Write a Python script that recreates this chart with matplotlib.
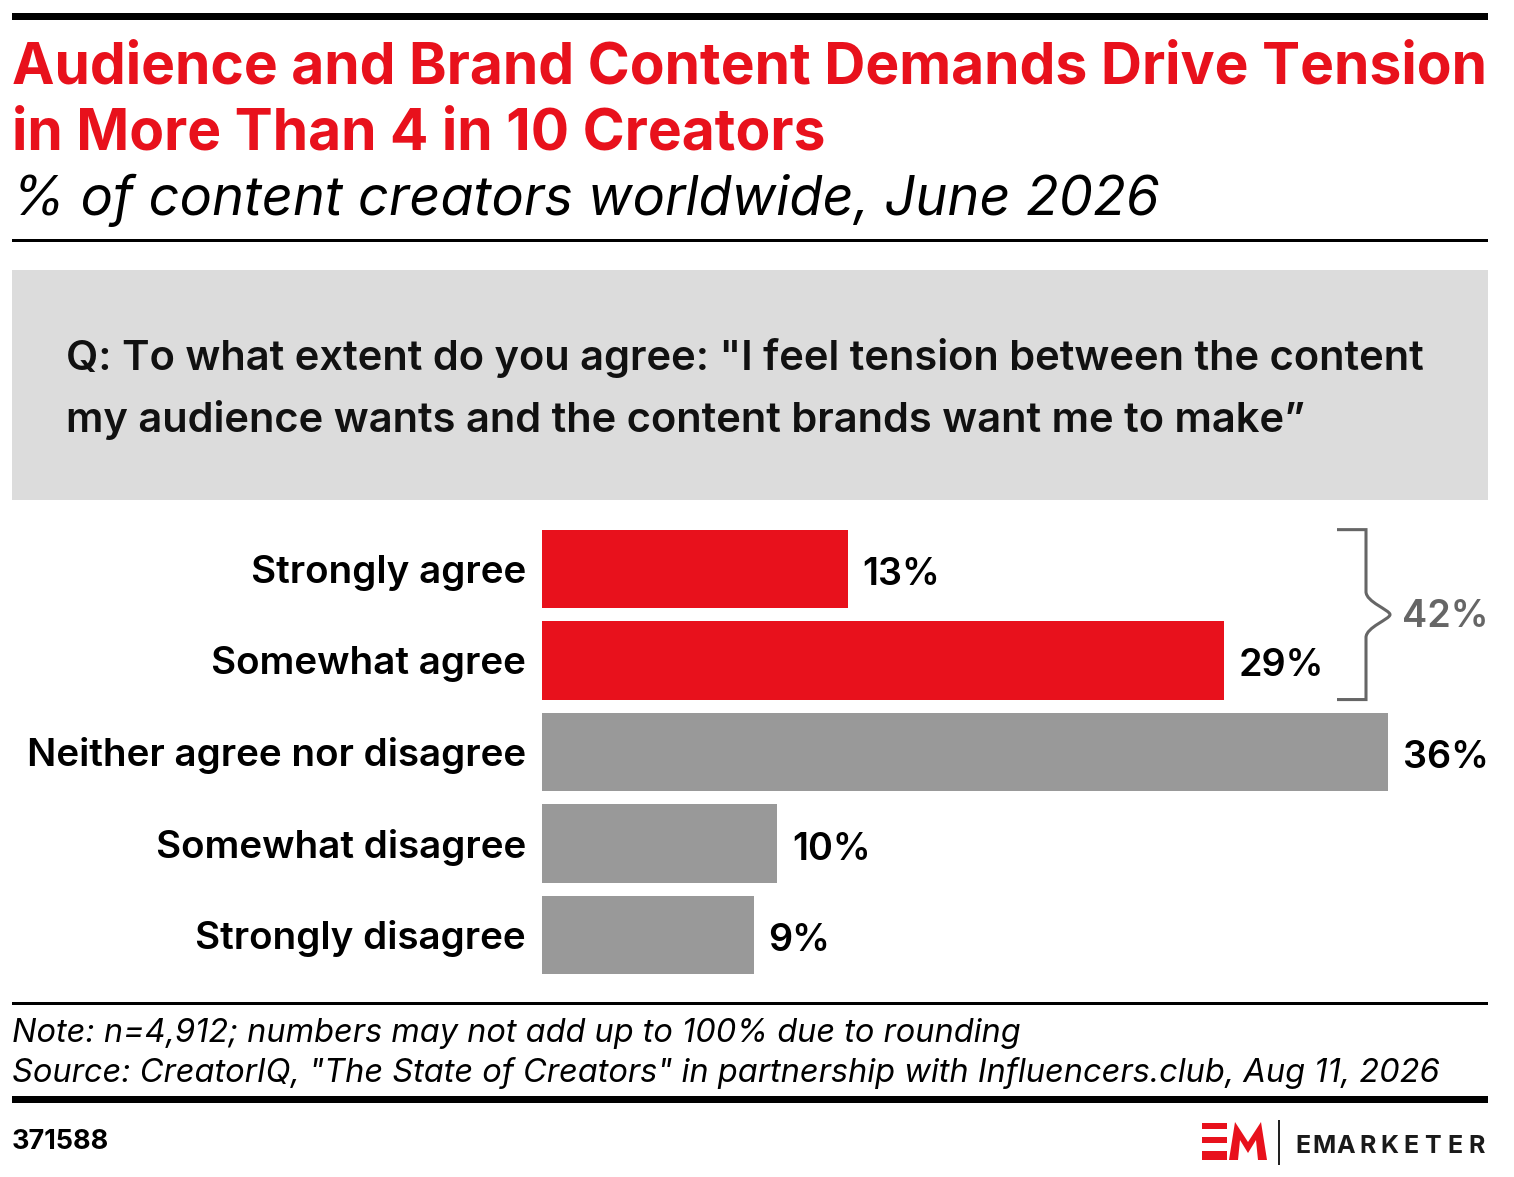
import matplotlib
matplotlib.use("Agg")
import matplotlib.pyplot as plt
from matplotlib.path import Path
from matplotlib.patches import PathPatch, Rectangle, Polygon

categories = ["Strongly agree", "Somewhat agree", "Neither agree nor disagree",
              "Somewhat disagree", "Strongly disagree"]
values = [13, 29, 36, 10, 9]
value_labels = ["13%", "29%", "36%", "10%", "9%"]
agree_total_label = "42%"

RED = "#e8111c"
GRAY = "#999999"
DARK = "#666666"
FONT = "Inter"

W, H = 1514, 1177
fig = plt.figure(figsize=(W / 100, H / 100), dpi=100)
plt.rcParams['font.family'] = [FONT, 'DejaVu Sans']


def fx(x):
    return x / W


def fy(y):
    return 1 - y / H


def hrule(y, thick):
    fig.add_artist(Rectangle((fx(12), fy(y + thick / 2)), fx(1488) - fx(12), thick / H,
                             transform=fig.transFigure, color="black", lw=0))


hrule(16, 7)
fig.text(fx(12), fy(83), "Audience and Brand Content Demands Drive Tension", color=RED,
         fontsize=41, fontweight="bold", va="baseline", ha="left")
fig.text(fx(12), fy(150), "in More Than 4 in 10 Creators", color=RED,
         fontsize=41, fontweight="bold", va="baseline", ha="left")
fig.text(fx(12), fy(215), "% of content creators worldwide, June 2026", color="black",
         fontsize=39, fontstyle="italic", va="baseline", ha="left")
hrule(240, 3)

# question box
fig.add_artist(Rectangle((fx(12), fy(500)), fx(1488) - fx(12), 230 / H,
                         transform=fig.transFigure, color="#dcdcdc", lw=0))
fig.text(fx(66), fy(370), "Q: To what extent do you agree: \"I feel tension between the content",
         fontsize=30, fontweight="semibold", va="baseline", ha="left", color="#111111")
fig.text(fx(66), fy(432), "my audience wants and the content brands want me to make\u201d",
         fontsize=30, fontweight="semibold", va="baseline", ha="left", color="#111111")

# bars
x0, x36 = 542, 1388
top, bot = 523, 981
ax = fig.add_axes([fx(x0), fy(bot), (x36 - x0) / W, (bot - top) / H])
ypos = list(range(len(categories)))
colors = [RED, RED, GRAY, GRAY, GRAY]
bh = 0.855
ax.barh(ypos, values, height=bh, color=colors, lw=0)
ax.set_xlim(0, 36)
ax.set_ylim(len(categories) - 0.5, -0.5)
ax.axis("off")
LFS = 27.8
VFS = 27.2
cap_off = -LFS * 100 / 72 * 0.727 / 2
for yi, v, lab, cat in zip(ypos, values, value_labels, categories):
    ax.annotate(lab, (v, yi), xytext=(15, cap_off - 2), textcoords="offset pixels",
                va="baseline", ha="left", fontsize=VFS, fontweight="semibold",
                annotation_clip=False)
    ax.annotate(cat, (0, yi), xytext=(-16, cap_off), textcoords="offset pixels",
                va="baseline", ha="right", fontsize=LFS, fontweight="semibold",
                annotation_clip=False)

# bracket for agree total
pxu = (x36 - x0) / 36
bx = max(values) - (1388 - 1366) / pxu
bl = bx - 29 / pxu
tip = bx + 24 / pxu
ytop = 0 - bh / 2
ybot = 1 + bh / 2
ymid = (ytop + ybot) / 2
d = 0.25
verts = [(bl, ytop), (bx, ytop), (bx, ymid - d),
         (bx, ymid - d * 0.55), (tip, ymid - 0.05), (tip, ymid),
         (tip, ymid + 0.05), (bx, ymid + d * 0.55), (bx, ymid + d),
         (bx, ybot), (bl, ybot)]
codes = [Path.MOVETO, Path.LINETO, Path.LINETO,
         Path.CURVE4, Path.CURVE4, Path.CURVE4,
         Path.CURVE4, Path.CURVE4, Path.CURVE4,
         Path.LINETO, Path.LINETO]
ax.add_patch(PathPatch(Path(verts, codes), fill=False, edgecolor=DARK, lw=2.2, clip_on=False))
ax.annotate(agree_total_label, (tip, ymid), xytext=(12, cap_off + 2), textcoords="offset pixels",
            va="baseline", ha="left", fontsize=VFS, fontweight="semibold", color=DARK,
            annotation_clip=False)

hrule(1003, 3)
fig.text(fx(12), fy(1042), "Note: n=4,912; numbers may not add up to 100% due to rounding",
         fontsize=23.4, fontstyle="italic", va="baseline", ha="left")
fig.text(fx(12), fy(1082),
         "Source: CreatorIQ, \"The State of Creators\" in partnership with Influencers.club, Aug 11, 2026",
         fontsize=23.45, fontstyle="italic", va="baseline", ha="left")
hrule(1099, 7)
fig.text(fx(12), fy(1149), "371588", fontsize=19.5, fontweight="bold", va="baseline", ha="left")

# logo
for (ya, yb) in [(1123, 1129), (1137, 1143), (1151, 1160)]:
    fig.add_artist(Rectangle((fx(1202), fy(yb)), (1227 - 1202) / W, (yb - ya) / H,
                             transform=fig.transFigure, color=RED, lw=0))
mpts = [(1229, 1160), (1235, 1122), (1248, 1142), (1261, 1122), (1267, 1160),
        (1258, 1160), (1256, 1140), (1248, 1153), (1240, 1140), (1238, 1160)]
fig.add_artist(Polygon([(fx(a), fy(b)) for a, b in mpts], closed=True,
                       transform=fig.transFigure, color=RED, lw=0))
fig.add_artist(Rectangle((fx(1278), fy(1165)), 2 / W, 45 / H,
                         transform=fig.transFigure, color="#222222", lw=0))
brand = "EMARKETER"
pitch = (1487 - 1292) / len(brand)
for i, ch in enumerate(brand):
    fig.text(fx(1292 + pitch * (i + 0.5)), fy(1153), ch, fontsize=18,
             fontweight="bold", va="baseline", ha="center", color="#1a1a1a")

fig.savefig("out.png", dpi=100)
